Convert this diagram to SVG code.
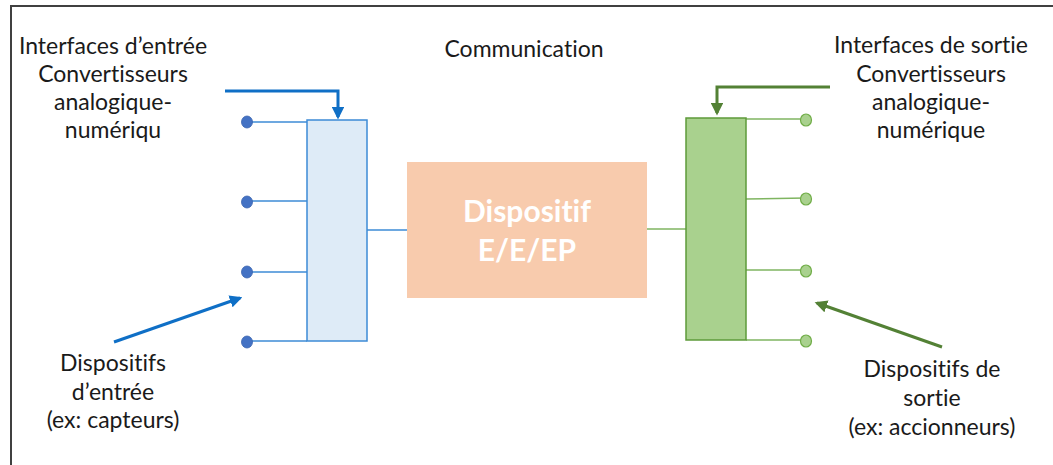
<svg xmlns="http://www.w3.org/2000/svg" width="1053" height="465" viewBox="0 0 1053 465">
<style>
.t{font-family:Lato,"Liberation Sans",sans-serif;font-size:23px;fill:#1a1a1a;text-anchor:middle;font-variant-ligatures:none}
.w{font-family:Lato,"Liberation Sans",sans-serif;font-size:30px;font-weight:bold;fill:#ffffff;text-anchor:middle;font-variant-ligatures:none}
.bl{stroke:#3d8bd6;stroke-width:1.5;fill:none}
.gl{stroke:#7fb560;stroke-width:1.5;fill:none}
.ba{stroke:#0f6fc6;stroke-width:3;fill:none}
.ga{stroke:#538135;stroke-width:3;fill:none}
</style>
<defs>
<marker id="ab" viewBox="0 0 10 10" refX="8" refY="5" markerWidth="4.2" markerHeight="4.2" orient="auto"><path d="M0,0 L10,5 L0,10 z" fill="#0f6fc6"/></marker>
<marker id="ag" viewBox="0 0 10 10" refX="8" refY="5" markerWidth="4.2" markerHeight="4.2" orient="auto"><path d="M0,0 L10,5 L0,10 z" fill="#538135"/></marker>
</defs>
<rect width="1053" height="465" fill="#ffffff"/>
<path d="M11,465 L11,6 L1053,6" stroke="#404040" stroke-width="2" fill="none"/>
<g id="connectors">
<line class="bl" x1="247" y1="122" x2="307" y2="122"/>
<line class="bl" x1="247" y1="201" x2="307" y2="201"/>
<line class="bl" x1="247" y1="272" x2="307" y2="272"/>
<line class="bl" x1="247" y1="341" x2="307" y2="341"/>
<line class="bl" x1="367" y1="230" x2="407" y2="230"/>
<line class="gl" x1="647" y1="229" x2="686" y2="229"/>
<line class="gl" x1="746" y1="119" x2="806" y2="119"/>
<line class="gl" x1="746" y1="199" x2="806" y2="198"/>
<line class="gl" x1="746" y1="270" x2="806" y2="270"/>
<line class="gl" x1="746" y1="340" x2="806" y2="340"/>
<path class="ba" d="M225,91 L338,91 L338,117" marker-end="url(#ab)"/>
<path class="ga" d="M830,87 L717,87 L717,113" marker-end="url(#ag)"/>
<line class="ba" x1="114" y1="342" x2="240" y2="298" marker-end="url(#ab)"/>
<line class="ga" x1="942" y1="347" x2="817" y2="303" marker-end="url(#ag)"/>
</g>
<g id="input-interface"><rect x="307" y="120" width="60" height="221" fill="#deebf7" stroke="#3d8bd6" stroke-width="1.5"/></g>
<g id="input-devices" fill="#4472c4" stroke="#3a64b0" stroke-width="0.8">
<ellipse cx="247" cy="122" rx="5.5" ry="6"/><ellipse cx="247" cy="202" rx="5.5" ry="6"/><ellipse cx="247" cy="272" rx="5.5" ry="6"/><ellipse cx="247" cy="342" rx="5.5" ry="6"/>
</g>
<g id="main-device">
<rect x="407" y="162" width="240" height="136" fill="#f8cbad"/>
<text class="w" x="527" y="222">Dispositif</text>
<text class="w" x="527" y="261">E/E/EP</text>
</g>
<g id="output-interface"><rect x="686" y="118" width="60" height="222" fill="#a9d18e" stroke="#5e9a3a" stroke-width="1.5"/></g>
<g id="output-devices" fill="#a9d18e" stroke="#70ad47" stroke-width="1.2">
<ellipse cx="806" cy="120" rx="5.5" ry="6"/><ellipse cx="806" cy="199" rx="5.5" ry="6"/><ellipse cx="806" cy="271" rx="5.5" ry="6"/><ellipse cx="806" cy="341" rx="5.5" ry="6"/>
</g>
<g id="label-input-interface">
<text class="t" x="113" y="54">Interfaces d’entrée</text>
<text class="t" x="113" y="82">Convertisseurs</text>
<text class="t" x="113" y="110">analogique-</text>
<text class="t" x="113" y="138">numériqu</text>
</g>
<g id="label-communication"><text class="t" x="524" y="57">Communication</text></g>
<g id="label-output-interface">
<text class="t" x="931" y="53">Interfaces de sortie</text>
<text class="t" x="931" y="82">Convertisseurs</text>
<text class="t" x="931" y="110">analogique-</text>
<text class="t" x="931" y="138">numérique</text>
</g>
<g id="label-input-devices">
<text class="t" x="113" y="371">Dispositifs</text>
<text class="t" x="113" y="400">d’entrée</text>
<text class="t" x="113" y="428">(ex: capteurs)</text>
</g>
<g id="label-output-devices">
<text class="t" x="932" y="377">Dispositifs de</text>
<text class="t" x="932" y="406">sortie</text>
<text class="t" x="932" y="435">(ex: accionneurs)</text>
</g>
</svg>
